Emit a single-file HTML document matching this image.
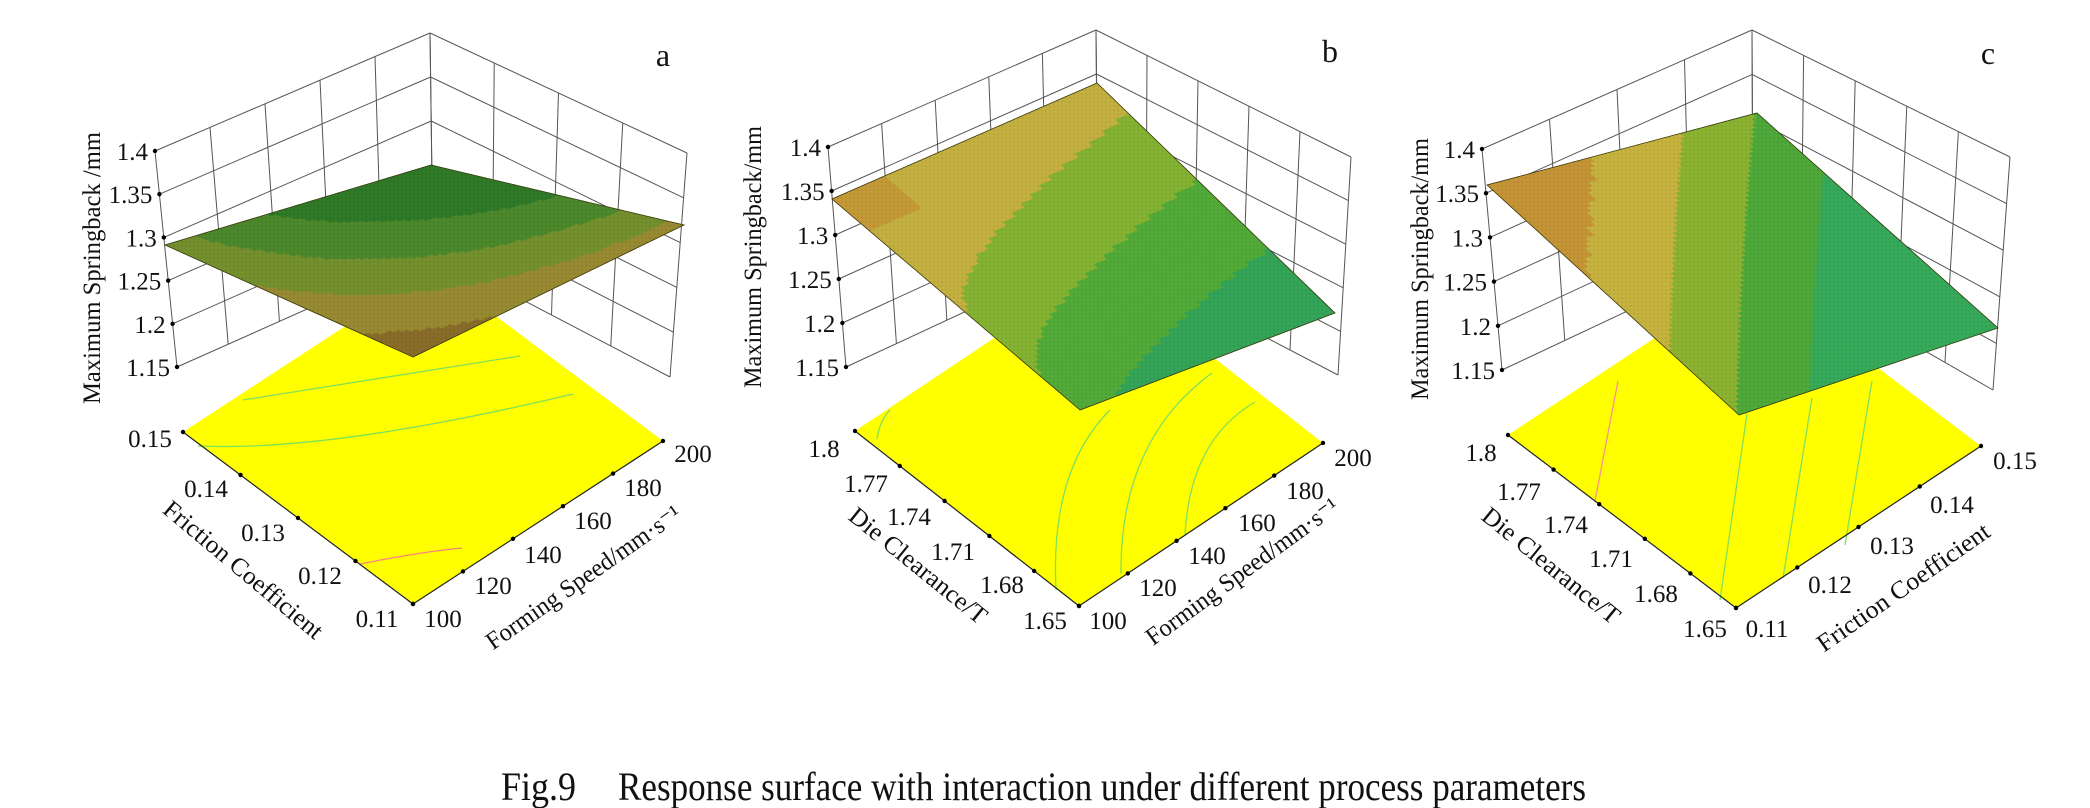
<!DOCTYPE html>
<html><head><meta charset="utf-8">
<style>
html,body{margin:0;padding:0;background:#fff;}
svg{display:block;}
text{font-family:"Liberation Serif",serif;fill:#111;}
</style></head>
<body>
<svg id="s" width="2090" height="808" viewBox="0 0 2090 808" xmlns="http://www.w3.org/2000/svg">
<defs>
<pattern id="mesh" width="4" height="4" patternUnits="userSpaceOnUse">
<rect x="0" y="0" width="4" height="4" fill="none"/>
<circle cx="2" cy="2" r="0.9" fill="#000" opacity="0.5"/>
</pattern>
</defs>
<g id="g"></g>
<text x="501" y="800" font-size="40" textLength="75" lengthAdjust="spacingAndGlyphs">Fig.9</text>
<text x="618" y="800" font-size="40" textLength="968" lengthAdjust="spacingAndGlyphs">Response surface with interaction under different process parameters</text>
</svg>
<script>
(function(){
var NS="http://www.w3.org/2000/svg";
var G=document.getElementById("g");
function el(n,a,t){var e=document.createElementNS(NS,n);for(var k in a)e.setAttribute(k,a[k]);if(t!==undefined)e.textContent=t;G.appendChild(e);return e;}
function L(p,q,t){return [p[0]+(q[0]-p[0])*t,p[1]+(q[1]-p[1])*t];}
function line(p,q,c,w){el("line",{x1:p[0],y1:p[1],x2:q[0],y2:q[1],stroke:c||"#555","stroke-width":w||1});}
function dot(p){el("circle",{cx:p[0],cy:p[1],r:2.2,fill:"#000"});}
function txt(x,y,s,o){var a={x:x,y:y,"font-size":o&&o.fs||25};if(o&&o.anchor)a["text-anchor"]=o.anchor;if(o&&o.rot!==undefined)a.transform="rotate("+o.rot+" "+x+" "+y+")";if(o&&o.len){a.textLength=o.len;a.lengthAdjust="spacingAndGlyphs";}return el("text",a,s);}

function panel(P){
 for(var k=0;k<=5;k++){var t=k/5;
  var a=L(P.LT,P.LB,t),b=L(P.BT,P.BB,t),c=L(P.RT,P.RB,t);
  line(a,b);line(b,c);}
 for(var i=0;i<=P.nL;i++){var t=i/P.nL;line(L(P.LT,P.BT,t),L(P.LB,P.BB,t));}
 for(var i=0;i<=P.nR;i++){var t=i/P.nR;line(L(P.BT,P.RT,t),L(P.BB,P.RB,t));}
 var zl=["1.4","1.35","1.3","1.25","1.2","1.15"];
 for(var k=0;k<=5;k++){var p=L(P.LT,P.LB,k/5);dot(p);txt(p[0]-7,p[1]+9,zl[k],{anchor:"end"});}
 el("polygon",{points:[P.FL,P.FF,P.FR,P.FB].map(function(p){return p.join(",")}).join(" "),fill:"#ffff00"});
 P.cont.forEach(function(c){el("path",{d:c[0],fill:"none",stroke:c[1]||"#7fe05a","stroke-width":1.3});});
 line(P.FL,P.FF,"#222",1.2);line(P.FF,P.FR,"#222",1.2);
 for(var i=0;i<P.lL.length;i++){var p=L(P.FL,P.FF,i/(P.lL.length-1));dot(p);}
 for(var i=0;i<P.lR.length;i++){var p=L(P.FF,P.FR,i/(P.lR.length-1));dot(p);}
 P.lLpos.forEach(function(q,i){txt(q[0],q[1]+9,P.lL[i],{anchor:"middle"});});
 P.lRpos.forEach(function(q,i){txt(q[0],q[1]+9,P.lR[i],{anchor:"middle"});});
 var N=60,SF=P.SF,SL=P.SL,SR=P.SR,SB=P.SB;
 function S(u,v){return [SF[0]+u*(SL[0]-SF[0])+v*(SR[0]-SF[0])+u*v*(SB[0]-SL[0]-SR[0]+SF[0]),
  SF[1]+u*(SL[1]-SF[1])+v*(SR[1]-SF[1])+u*v*(SB[1]-SL[1]-SR[1]+SF[1])];}
 var h="";
 for(var i=0;i<N;i++)for(var j=0;j<N;j++){
  var u0=i/N,u1=(i+1)/N,v0=j/N,v1=(j+1)/N;
  var col=P.col((u0+u1)/2,(v0+v1)/2);
  var pts=[S(u0,v0),S(u1,v0),S(u1,v1),S(u0,v1)].map(function(p){return p[0].toFixed(1)+","+p[1].toFixed(1)}).join(" ");
  h+='<polygon points="'+pts+'" fill="'+col+'" stroke="'+col+'" stroke-width="0.6"/>';
 }
 var gg=document.createElementNS(NS,"g");gg.innerHTML=h;G.appendChild(gg);
 var outline=[SF,SL,SB,SR].map(function(p){return p.join(",")}).join(" ");
 el("polygon",{points:outline,fill:"url(#mesh)",opacity:0.2});
 el("polygon",{points:outline,fill:"none",stroke:"#3a3a10","stroke-width":0.8});
 txt(P.zt[0],P.zt[1],P.ztitle,{anchor:"middle",rot:-90,len:P.ztlen});
 txt(P.t1[0],P.t1[1],P.t1s,{anchor:"middle",rot:P.t1[2],len:P.t1[3]});
 txt(P.t2[0],P.t2[1],P.t2s,{anchor:"middle",rot:P.t2[2],len:P.t2[3]});
 txt(P.lab[0],P.lab[1],P.labs,{anchor:"middle",fs:32});
}

panel({LT:[155,151],LB:[177,367],BT:[430,33],BB:[433,253],RT:[687,153],RB:[670,377],nL:5,nR:4,
 FL:[183,432],FF:[413,604],FR:[663,441],FB:[433,269],
 cont:[["M243,400 Q320,388 520,356"],["M198,446 Q330,452 573,394"],["M360,564 Q420,552 462,548","#ff8080"]],
 lL:["0.15","0.14","0.13","0.12","0.11"],lLpos:[[150,438],[206,488],[263,532],[320,575],[377,618]],
 lR:["100","120","140","160","180","200"],lRpos:[[443,618],[493,585],[543,554],[593,520],[643,487],[693,453]],
 SL:[165,245],SB:[431,165],SR:[684,225],SF:[413,357],
 col:function(u,v){var f=u+0.75*v-0.35*(u-v)*(u-v)+0.1;
  if(f<0.3)return"#8a6c2a";if(f<0.6)return"#988a32";if(f<0.9)return"#74902e";if(f<1.25)return"#4c882c";return"#2f7a28";},
 zt:[100,268],ztitle:"Maximum Springback /mm",ztlen:272,
 t1:[238,576,40,200],t1s:"Friction Coefficient",
 t2:[588,584,-35,232],t2s:"Forming Speed/mm·s⁻¹",
 lab:[663,66],labs:"a"});

panel({LT:[828,147],LB:[846,367],BT:[1096,30],BB:[1098,250],RT:[1351,157],RB:[1338,375],nL:5,nR:5,
 FL:[855,431],FF:[1079,606],FR:[1323,443],FB:[1099,268],
 cont:[["M1056,590 Q1050,470 1110,410"],["M1121,574 Q1120,440 1212,373"],["M1185,535 Q1190,440 1255,402"],["M877,439 Q880,420 890,410"]],
 lL:["1.8","1.77","1.74","1.71","1.68","1.65"],lLpos:[[824,448],[866,483],[909,516],[953,551],[1002,584],[1045,620]],
 lR:["100","120","140","160","180","200"],lRpos:[[1108,620],[1158,587],[1207,555],[1257,522],[1305,490],[1353,457]],
 SL:[832,199],SB:[1097,83],SR:[1335,313],SF:[1080,410],
 col:function(u,v){var f=u-0.45*Math.sqrt(v);
  if(f>0.42){return (u>0.85&&v<0.2)?"#c49a38":"#c4b040";}if(f>0.13)return"#84b232";if(f>-0.17)return"#52aa38";return"#34a458";},
 zt:[761,257],ztitle:"Maximum Springback/mm",ztlen:262,
 t1:[913,572,39,170],t1s:"Die Clearance/T",
 t2:[1247,578,-36,232],t2s:"Forming Speed/mm·s⁻¹",
 lab:[1330,62],labs:"b"});

panel({LT:[1482,149],LB:[1502,370],BT:[1752,30],BB:[1753,252],RT:[2010,157],RB:[1993,390],nL:4,nR:5,
 FL:[1508,435],FF:[1736,608],FR:[1981,446],FB:[1753,273],
 cont:[["M1720,600 L1747,414"],["M1783,578 L1812,398"],["M1845,545 L1872,381"],["M1595,501 L1618,381","#ff9090"]],
 lL:["1.8","1.77","1.74","1.71","1.68","1.65"],lLpos:[[1481,452],[1519,491],[1566,524],[1611,558],[1656,593],[1705,628]],
 lR:["0.11","0.12","0.13","0.14","0.15"],lRpos:[[1767,628],[1830,584],[1892,545],[1952,504],[2015,460]],
 SL:[1487,185],SB:[1757,113],SR:[1998,328],SF:[1739,415],
 col:function(u,v){var f=u-v;
  if(f>0.6)return"#c49436";if(f>0.27)return"#c6b23e";if(f>0)return"#8cb232";if(f>-0.28)return"#4ea83a";return"#36aa5a";},
 zt:[1428,269],ztitle:"Maximum Springback/mm",ztlen:262,
 t1:[1546,572,39,170],t1s:"Die Clearance/T",
 t2:[1908,594,-35,205],t2s:"Friction Coefficient",
 lab:[1988,64],labs:"c"});
})();
</script>
</body></html>
